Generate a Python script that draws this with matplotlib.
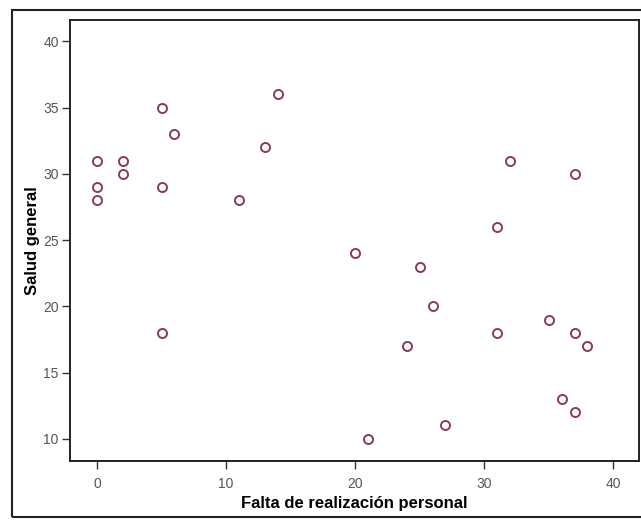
import matplotlib.pyplot as plt
from matplotlib.patches import Rectangle

# Falta de realizacion personal vs Salud general
falta_realizacion = [0, 0, 0, 2, 2, 5, 5, 5, 6, 11, 13, 14, 20, 21, 24, 25, 26, 27,
                     31, 31, 32, 35, 36, 37, 37, 37, 38]
salud_general = [31, 29, 28, 31, 30, 35, 29, 18, 33, 28, 32, 36, 24, 10, 17, 23, 20, 11,
                 18, 26, 31, 19, 13, 18, 12, 30, 17]

x_ticks = [0, 10, 20, 30, 40]
y_ticks = [10, 15, 20, 25, 30, 35, 40]

plt.rcParams['font.family'] = ['Liberation Sans', 'DejaVu Sans']

fig = plt.figure(figsize=(6.41, 5.20), dpi=100)
ax = fig.add_axes([0.109, 0.113, 0.888, 0.848])

# outer frame around the whole chart
fig.patches.append(Rectangle((12 / 641, 3 / 520), 1.0, 507 / 520, transform=fig.transFigure,
                             fill=False, edgecolor='#222222', linewidth=1.5))

ax.plot(falta_realizacion, salud_general, 'o', markerfacecolor='none',
        markeredgecolor='#8a3a5c', markeredgewidth=1.4, markersize=6.5)

ax.set_xlim(-2.1, 42.0)
ax.set_ylim(8.3, 41.6)
ax.set_xticks(x_ticks)
ax.set_yticks(y_ticks)
ax.tick_params(direction='out', length=6, width=1, colors='#333333', labelsize=10,
               labelcolor='#555555')
ax.tick_params(axis='x', pad=5)
ax.tick_params(axis='y', pad=2)

for s in ax.spines.values():
    s.set_linewidth(1.4)
    s.set_color('#222222')

ax.set_xlabel('Falta de realización personal', fontsize=12, fontweight='bold', labelpad=4)
ax.set_ylabel('Salud general', fontsize=12, fontweight='bold', labelpad=2)

fig.savefig('out.png', dpi=100)
